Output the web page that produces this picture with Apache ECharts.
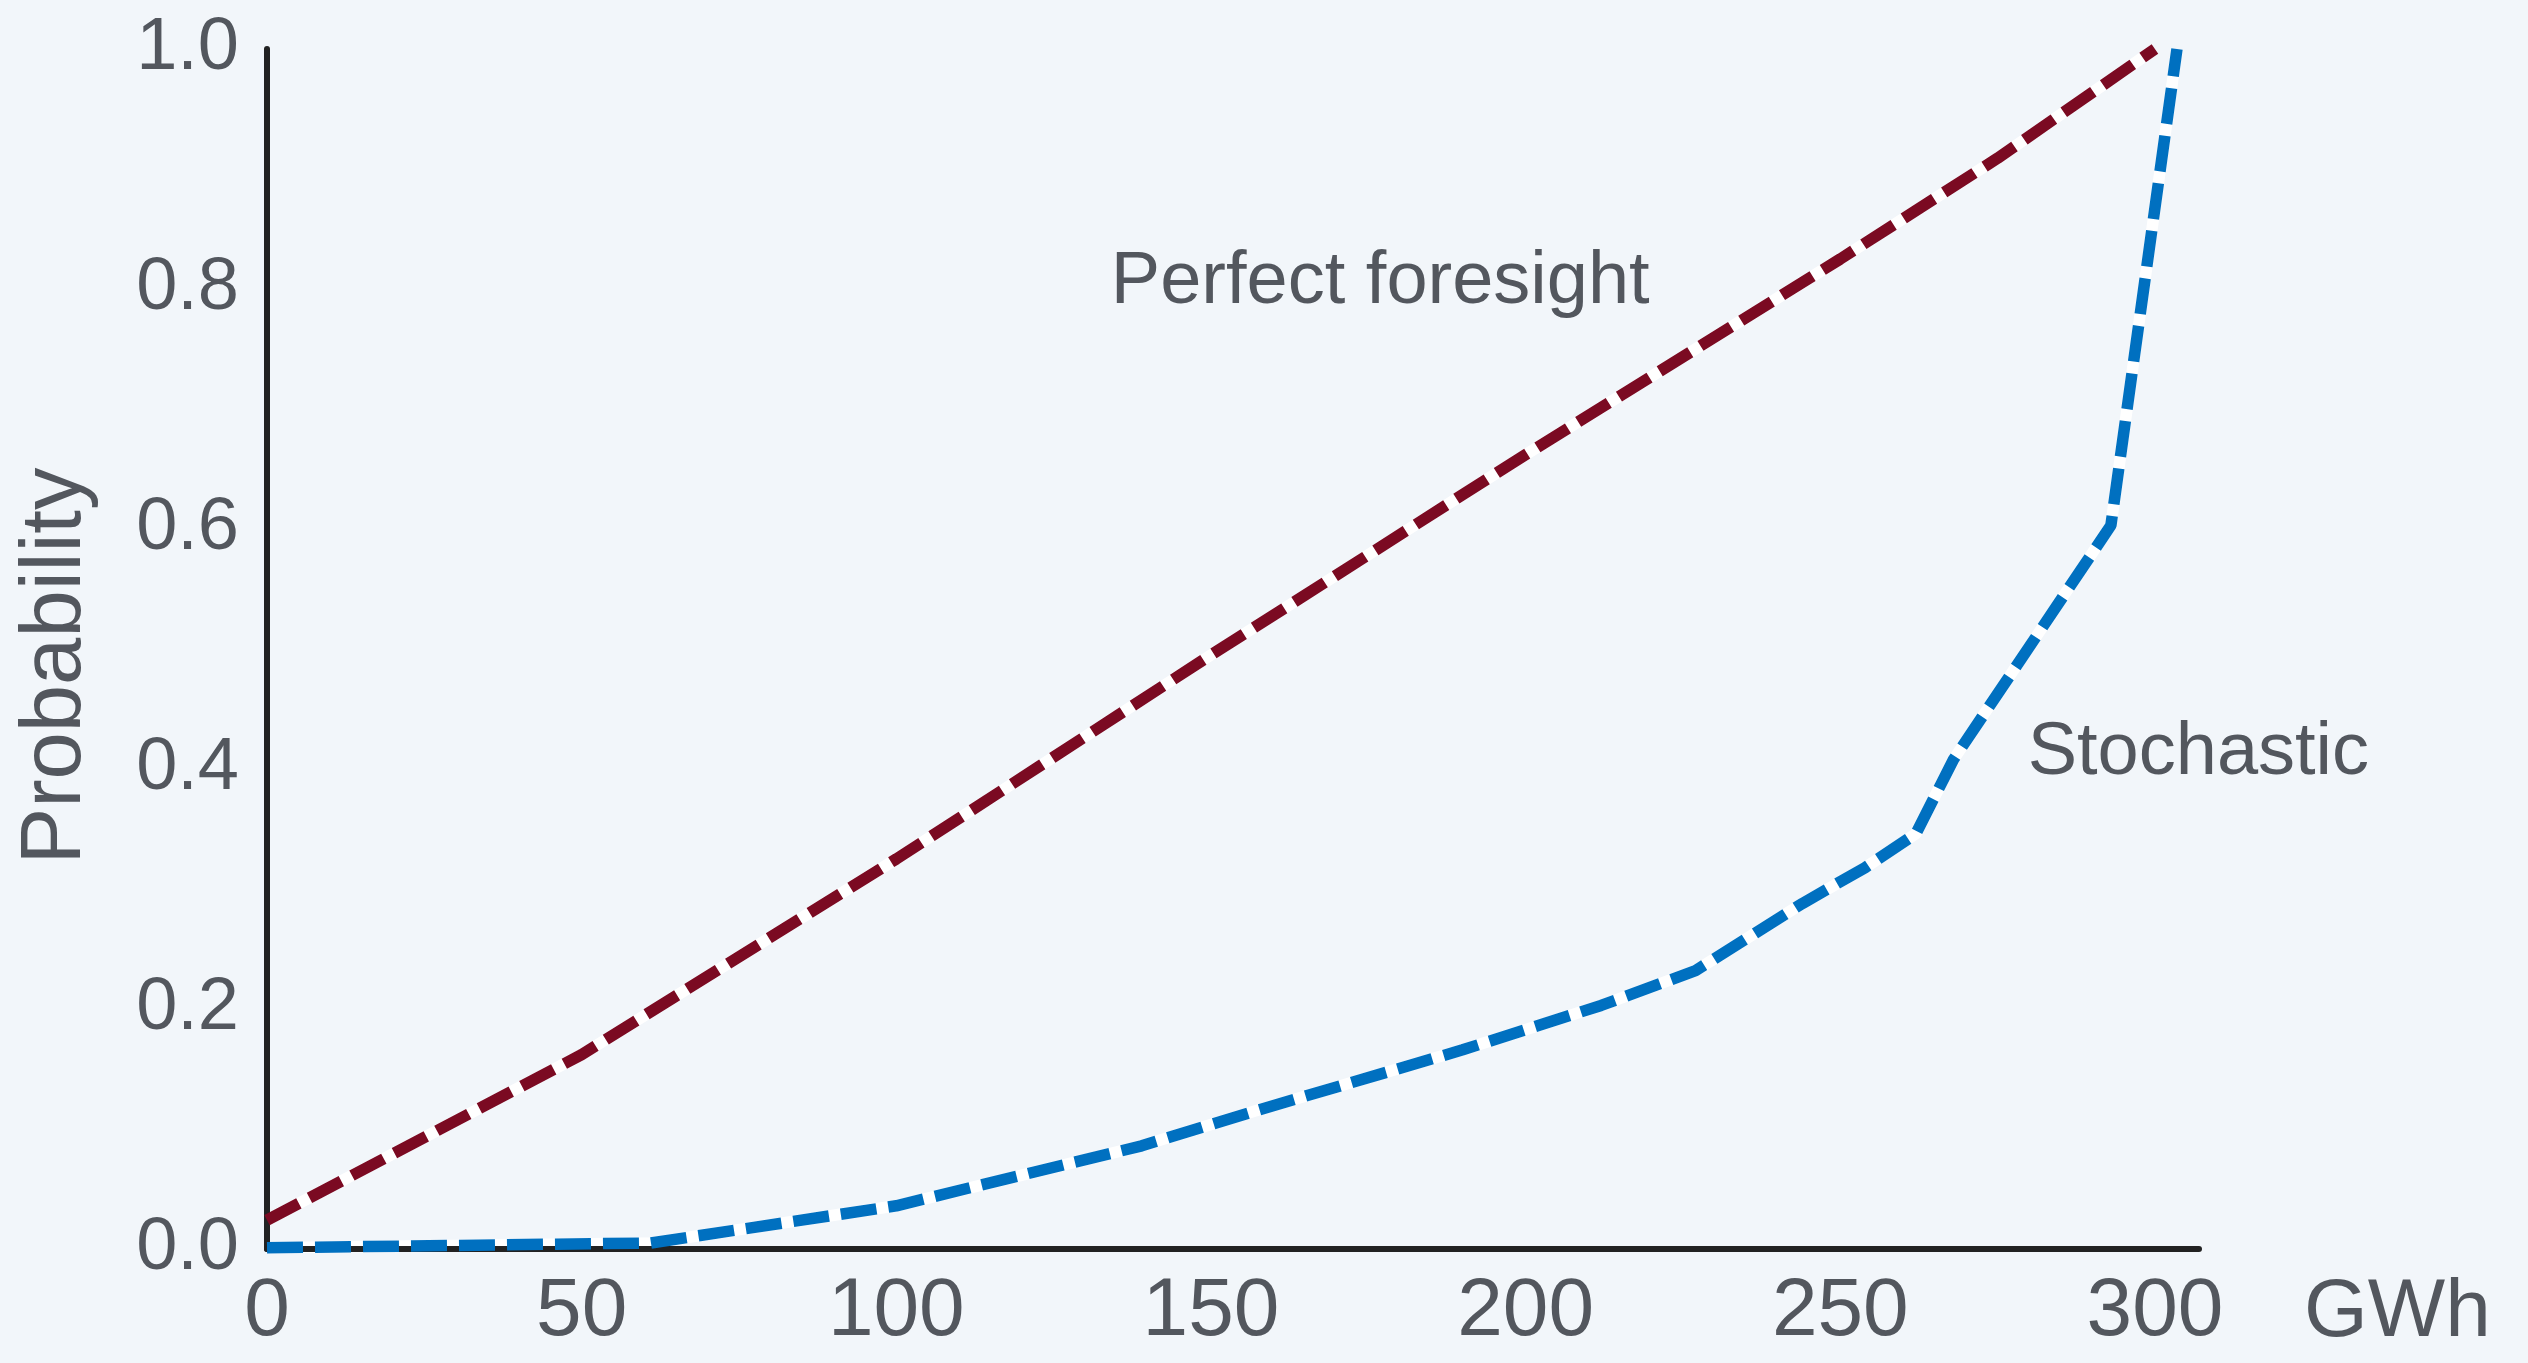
<!DOCTYPE html>
<html>
<head>
<meta charset="utf-8">
<script src="https://cdn.jsdelivr.net/npm/echarts@6/dist/echarts.min.js"></script>
<style>
  html, body { margin: 0; padding: 0; background: #f2f6fa; }
  #chart { width: 2528px; height: 1363px; }
</style>
</head>
<body>
<div id="chart"></div>
<script>
// ---- data ----
const foresightX = [0, 50, 100, 150, 200, 250, 275, 300];
const foresightY = [0.024, 0.162, 0.325, 0.495, 0.662, 0.825, 0.909, 1.0];

const stochasticX = [0, 61, 100, 139, 157, 190, 212, 227, 244, 254, 262, 268, 293, 303.5];
const stochasticY = [0.001, 0.005, 0.036, 0.086, 0.115, 0.166, 0.203, 0.232, 0.288, 0.318, 0.346, 0.408, 0.603, 1.0];

const seriesNames = ['Perfect foresight', 'Stochastic'];
const xAxisName = 'GWh';
const yAxisName = 'Probability';

function pairs(xs, ys) { return xs.map((x, i) => [x, ys[i]]); }

const FONT = 'Liberation Sans';
const TEXT = '#53575e';
const AXIS = '#222222';
const LW = 11.5;
const DASH = [36, 12];

function labelPoint(name, coord) {
  return {
    symbol: 'circle', symbolSize: 1, itemStyle: { color: 'rgba(0,0,0,0)' },
    label: { show: true, position: 'inside', formatter: '{b}', color: TEXT, fontSize: 74, fontFamily: FONT },
    data: [{ name: name, coord: coord }]
  };
}

const chart = echarts.init(document.getElementById('chart'), null, { renderer: 'canvas' });
chart.setOption({
  backgroundColor: '#f2f6fa',
  animation: false,
  grid: { left: 267, right: 329, top: 49, bottom: 114, containLabel: false },
  xAxis: {
    type: 'value', min: 0, max: 307, interval: 50, z: 1.5,
    name: xAxisName, nameLocation: 'end', nameGap: 105,
    nameTextStyle: { color: TEXT, fontSize: 82, fontFamily: FONT, verticalAlign: 'top', padding: [23, 0, 0, 0] },
    axisLine: { show: true, lineStyle: { color: AXIS, width: 6 } },
    axisTick: { show: false },
    splitLine: { show: false },
    axisLabel: {
      color: TEXT, fontSize: 82, fontFamily: FONT, margin: 22,
      formatter: v => (v % 50 === 0 ? String(v) : '')
    }
  },
  yAxis: {
    type: 'value', min: 0, max: 1, interval: 0.2, z: 1.5,
    name: yAxisName, nameLocation: 'middle', nameRotate: 90, nameGap: 168,
    nameTextStyle: { color: TEXT, fontSize: 85, fontFamily: FONT, padding: [0, 34, 0, 0] },
    axisLine: { show: true, lineStyle: { color: AXIS, width: 6 } },
    axisTick: { show: false },
    splitLine: { show: false },
    axisLabel: {
      color: TEXT, fontSize: 74, fontFamily: FONT, margin: 28,
      formatter: v => v.toFixed(1)
    }
  },
  series: [
    {
      name: seriesNames[0] + ' base', type: 'line', data: pairs(foresightX, foresightY),
      symbol: 'none', showSymbol: false, z: 1, silent: true,
      lineStyle: { color: '#ffffff', width: LW, type: 'solid', cap: 'butt' }
    },
    {
      name: seriesNames[1] + ' base', type: 'line', data: pairs(stochasticX, stochasticY),
      symbol: 'none', showSymbol: false, z: 1, silent: true,
      lineStyle: { color: '#ffffff', width: LW, type: 'solid', cap: 'butt' }
    },
    {
      name: seriesNames[0], type: 'line', data: pairs(foresightX, foresightY),
      symbol: 'none', showSymbol: false, z: 3,
      lineStyle: { color: '#7b0a22', width: LW, type: DASH, cap: 'butt' },
      markPoint: labelPoint(seriesNames[0], [176.9, 0.805])
    },
    {
      name: seriesNames[1], type: 'line', data: pairs(stochasticX, stochasticY),
      symbol: 'none', showSymbol: false, z: 3,
      lineStyle: { color: '#0070c0', width: LW, type: DASH, cap: 'butt' },
      markPoint: labelPoint(seriesNames[1], [306.9, 0.413])
    }
  ]
});
</script>
</body>
</html>
